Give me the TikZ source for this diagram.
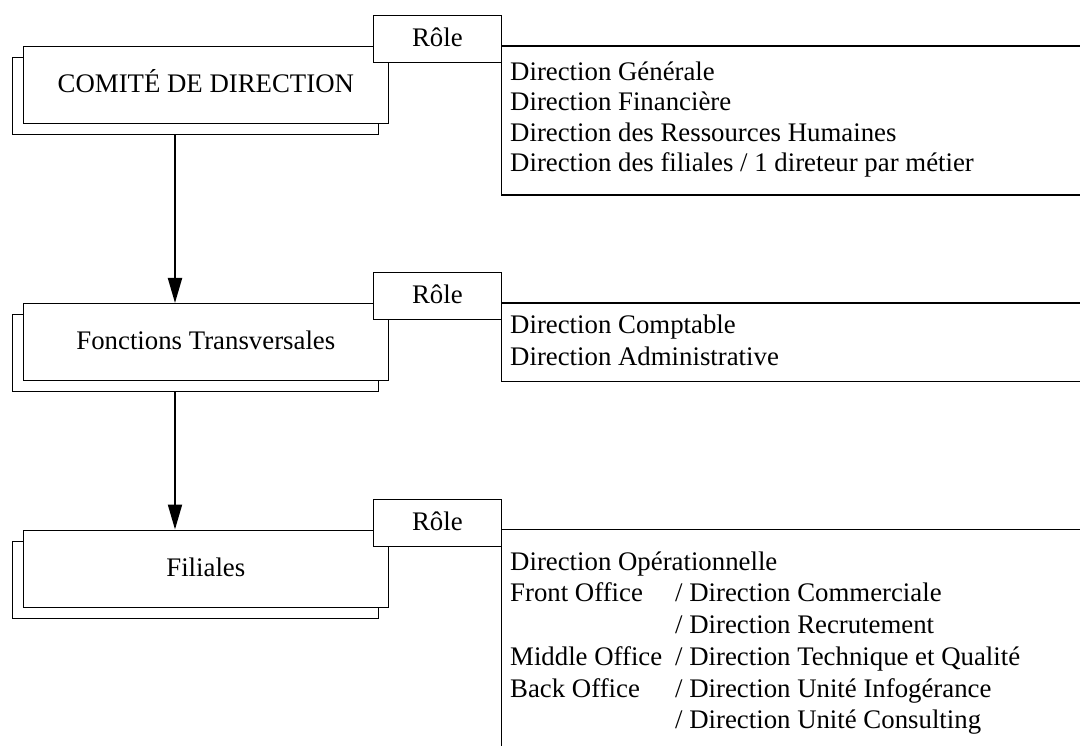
\documentclass[tikz,border=0pt]{standalone}
\usepackage{fontspec}
\setmainfont{Liberation Serif}
\usetikzlibrary{arrows.meta,calc}
\newcommand\officecol[1]{\makebox[165pt][l]{#1}}
\tikzset{
  every node/.style={font=\fontsize{26.8}{31.7}\selectfont},
  unitbox/.style={draw, fill=white, line width=1.2pt, inner sep=0pt,
    anchor=north west, minimum width=365.5pt, minimum height=77pt,
    text height=19pt, text depth=4pt},
  rolebox/.style={draw, fill=white, line width=1.2pt, inner sep=0pt,
    anchor=north west, minimum width=127.5pt, minimum height=46.7pt,
    text height=19pt, text depth=4pt},
  panel/.style={line width=1.2pt},
  listtext/.style={anchor=base west, inner sep=0pt},
  flow/.style={line width=2pt, -{Triangle[length=25pt,width=14pt]}}
}
\begin{document}
\begin{tikzpicture}[x=1pt,y=-1pt]
\useasboundingbox (0,0) rectangle (1080,746);

% --- Comité de direction ---
\node[unitbox] (back1) at (12,57) {};
\node[unitbox] (front1) at (22.5,46) {COMITÉ DE DIRECTION};
\node[rolebox] (role1) at (373,15) {Rôle};
\draw[panel] (role1.south east) -- (role1.east |- 0,195) -- (1090,195);
\draw[panel] (role1.east |- front1.north) -- ++(600,0);
\node[listtext] (list1) at (510,80.2) {\fontsize{26.8}{30.6}\selectfont
  \begin{tabular}[t]{@{}l@{}}
  Direction Générale\\
  Direction Financière\\
  Direction des Ressources Humaines\\
  Direction des filiales / 1 direteur par métier
  \end{tabular}};

% --- Fonctions transversales ---
\node[unitbox] (back2) at (12,314) {};
\node[unitbox] (front2) at (22.5,303) {Fonctions Transversales};
\node[rolebox] (role2) at (373,272) {Rôle};
\draw[panel] (role2.south east) -- (role2.east |- front2.south) -- ++(600,0);
\draw[panel] (role2.east |- front2.north) -- ++(600,0);
\node[listtext] (list2) at (510,333.5) {\fontsize{26.8}{31.7}\selectfont
  \begin{tabular}[t]{@{}l@{}}
  Direction Comptable\\
  Direction Administrative
  \end{tabular}};

% --- Filiales ---
\node[unitbox] (back3) at (12,540.5) {};
\node[unitbox] (front3) at (22.5,529.5) {Filiales};
\node[rolebox] (role3) at (373,499) {Rôle};
\draw[panel] (role3.south east) -- (role3.east |- 0,760);
\draw[panel] (role3.east |- front3.north) -- ++(600,0);
\node[listtext] (list3) at (510,570.2) {\fontsize{26.8}{31.7}\selectfont
  \begin{tabular}[t]{@{}l@{}l@{}}
  \multicolumn{2}{@{}l@{}}{Direction Opérationnelle}\\
  \officecol{Front Office} & / Direction Commerciale\\
  \officecol{} & / Direction Recrutement\\
  \officecol{Middle Office} & / Direction Technique et Qualité\\
  \officecol{Back Office} & / Direction Unité Infogérance\\
  \officecol{} & / Direction Unité Consulting
  \end{tabular}};

% --- hierarchy links ---
\coordinate (ax) at (175,0);
\draw[flow] (back1.south -| ax) -- (front2.north -| ax);
\draw[flow] (back2.south -| ax) -- (front3.north -| ax);
\end{tikzpicture}
\end{document}
